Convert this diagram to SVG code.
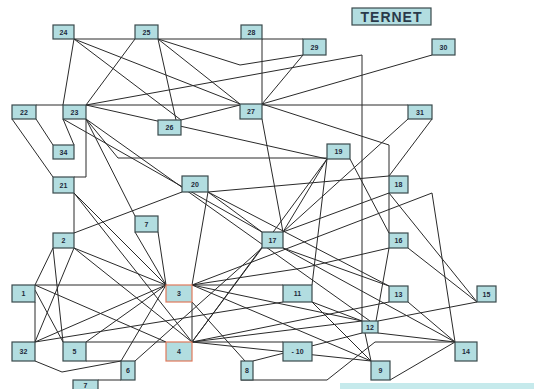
<svg xmlns="http://www.w3.org/2000/svg" width="534" height="389" viewBox="0 0 534 389">
<style>
.bg{fill:#ffffff}
.n rect{fill:#b2dde0;stroke:#3a4a4c;stroke-width:1.2}
.n.o rect{stroke:#e0795a}
.n text{font-family:"Liberation Sans",Arial,sans-serif;font-size:7px;font-weight:bold;fill:#1d2a3a;text-anchor:middle}
#edges line,#edges polyline{stroke:#2a2a2a;stroke-width:1;fill:none}
.title text{font-family:"Liberation Sans",Arial,sans-serif;font-size:14px;font-weight:bold;fill:#2a3a4a;text-anchor:middle;letter-spacing:1px}
</style>
<rect class="bg" x="0" y="0" width="534" height="389"/>
<g id="edges">
<line x1="74" y1="39" x2="135" y2="39"/>
<line x1="158" y1="39" x2="241" y2="39"/>
<line x1="262" y1="39" x2="303" y2="39"/>
<line x1="262" y1="39" x2="262" y2="104"/>
<line x1="36" y1="105" x2="63" y2="105"/>
<line x1="86" y1="105" x2="240" y2="105"/>
<line x1="262" y1="105" x2="408" y2="105"/>
<line x1="74" y1="39" x2="63" y2="105"/>
<line x1="74" y1="39" x2="240" y2="104"/>
<line x1="74" y1="39" x2="181" y2="120"/>
<line x1="135" y1="39" x2="86" y2="105"/>
<line x1="158" y1="39" x2="176" y2="120"/>
<line x1="158" y1="39" x2="240" y2="104"/>
<polyline points="158,39 240,65 303,55"/>
<line x1="303" y1="55" x2="262" y2="104"/>
<line x1="262" y1="104" x2="432" y2="55"/>
<polyline points="86,105 362,55 362,321"/>
<line x1="181" y1="120" x2="240" y2="105"/>
<line x1="86" y1="105" x2="327" y2="159"/>
<polyline points="86,119 118,158 327,158"/>
<line x1="36" y1="119" x2="53" y2="145"/>
<line x1="12" y1="119" x2="53" y2="177"/>
<line x1="63" y1="119" x2="74" y2="145"/>
<polyline points="86,119 86,177 74,177"/>
<line x1="74" y1="193" x2="74" y2="233"/>
<polyline points="262,104 389,145 389,176"/>
<line x1="389" y1="193" x2="389" y2="233"/>
<line x1="262" y1="119" x2="283" y2="232"/>
<line x1="408" y1="119" x2="283" y2="232"/>
<line x1="432" y1="119" x2="389" y2="176"/>
<line x1="208" y1="192" x2="389" y2="176"/>
<line x1="74" y1="233" x2="182" y2="192"/>
<line x1="208" y1="192" x2="262" y2="232"/>
<line x1="208" y1="192" x2="192" y2="285"/>
<line x1="208" y1="192" x2="389" y2="286"/>
<line x1="327" y1="159" x2="283" y2="232"/>
<line x1="327" y1="159" x2="312" y2="285"/>
<line x1="327" y1="159" x2="192" y2="342"/>
<line x1="350" y1="159" x2="389" y2="233"/>
<line x1="389" y1="193" x2="283" y2="232"/>
<line x1="389" y1="193" x2="477" y2="302"/>
<line x1="408" y1="248" x2="477" y2="302"/>
<line x1="389" y1="248" x2="376" y2="321"/>
<polyline points="192,285 432,193 455,342"/>
<polyline points="192,285 303,268 389,248"/>
<line x1="35" y1="285" x2="166" y2="285"/>
<line x1="35" y1="302" x2="35" y2="342"/>
<line x1="86" y1="342" x2="166" y2="342"/>
<line x1="192" y1="302" x2="192" y2="342"/>
<line x1="192" y1="285" x2="283" y2="285"/>
<line x1="192" y1="342" x2="283" y2="342"/>
<line x1="86" y1="361" x2="121" y2="361"/>
<polyline points="35,361 62,372 121,361"/>
<line x1="98" y1="380" x2="121" y2="380"/>
<line x1="121" y1="361" x2="166" y2="285"/>
<line x1="135" y1="361" x2="262" y2="248"/>
<polyline points="241,380 327,380 375,342 455,342"/>
<line x1="192" y1="302" x2="245" y2="361"/>
<line x1="253" y1="361" x2="362" y2="333"/>
<line x1="378" y1="333" x2="455" y2="342"/>
<line x1="378" y1="321" x2="477" y2="302"/>
<line x1="390" y1="380" x2="455" y2="342"/>
<line x1="408" y1="302" x2="455" y2="342"/>
<line x1="365" y1="333" x2="371" y2="361"/>
<line x1="53" y1="248" x2="35" y2="285"/>
<line x1="262" y1="248" x2="192" y2="342"/>
<line x1="283" y1="248" x2="455" y2="342"/>
<line x1="283" y1="248" x2="389" y2="286"/>
<line x1="74" y1="248" x2="166" y2="285"/>
<line x1="74" y1="193" x2="166" y2="285"/>
<line x1="74" y1="193" x2="192" y2="342"/>
<line x1="86" y1="119" x2="135" y2="216"/>
<line x1="135" y1="232" x2="166" y2="285"/>
<line x1="158" y1="232" x2="166" y2="285"/>
<line x1="35" y1="342" x2="166" y2="285"/>
<line x1="86" y1="342" x2="166" y2="285"/>
<line x1="35" y1="285" x2="166" y2="342"/>
<line x1="35" y1="290" x2="63" y2="342"/>
<line x1="74" y1="248" x2="35" y2="342"/>
<line x1="53" y1="248" x2="63" y2="342"/>
<line x1="74" y1="248" x2="192" y2="342"/>
<line x1="63" y1="119" x2="262" y2="232"/>
<line x1="86" y1="119" x2="370" y2="321"/>
<line x1="192" y1="285" x2="362" y2="321"/>
<line x1="192" y1="285" x2="371" y2="361"/>
<line x1="192" y1="342" x2="389" y2="302"/>
<line x1="192" y1="342" x2="362" y2="321"/>
<line x1="192" y1="342" x2="371" y2="361"/>
<line x1="312" y1="302" x2="362" y2="321"/>
<line x1="312" y1="302" x2="371" y2="361"/>
<line x1="35" y1="342" x2="283" y2="302"/>
</g>
<g id="n24" class="n"><rect x="53" y="25" width="21" height="14"/><text x="63.5" y="34.5">24</text></g>
<g id="n25" class="n"><rect x="135" y="25" width="23" height="14"/><text x="146.5" y="34.5">25</text></g>
<g id="n28" class="n"><rect x="241" y="25" width="21" height="14"/><text x="251.5" y="34.5">28</text></g>
<g id="n29" class="n"><rect x="303" y="39" width="23" height="16"/><text x="314.5" y="49.5">29</text></g>
<g id="n30" class="n"><rect x="432" y="39" width="23" height="16"/><text x="443.5" y="49.5">30</text></g>
<g id="ternet" class="title n"><rect x="352" y="8" width="79" height="17"/><text x="391.5" y="21.5" style="font-size:14px">TERNET</text></g>
<g id="n22" class="n"><rect x="12" y="105" width="24" height="14"/><text x="24" y="114.5">22</text></g>
<g id="n23" class="n"><rect x="63" y="105" width="23" height="14"/><text x="74.5" y="114.5">23</text></g>
<g id="n26" class="n"><rect x="158" y="120" width="23" height="15"/><text x="169.5" y="130">26</text></g>
<g id="n27" class="n"><rect x="240" y="104" width="22" height="15"/><text x="251" y="114">27</text></g>
<g id="n31" class="n"><rect x="408" y="105" width="24" height="14"/><text x="420" y="114.5">31</text></g>
<g id="n34" class="n"><rect x="53" y="145" width="21" height="14"/><text x="63.5" y="154.5">34</text></g>
<g id="n21" class="n"><rect x="53" y="177" width="21" height="16"/><text x="63.5" y="187.5">21</text></g>
<g id="n7a" class="n"><rect x="135" y="216" width="23" height="16"/><text x="146.5" y="226.5">7</text></g>
<g id="n2" class="n"><rect x="53" y="233" width="21" height="15"/><text x="63.5" y="243">2</text></g>
<g id="n19" class="n"><rect x="327" y="144" width="23" height="15"/><text x="338.5" y="154">19</text></g>
<g id="n20" class="n"><rect x="182" y="176" width="26" height="16"/><text x="195" y="186.5">20</text></g>
<g id="n17" class="n"><rect x="262" y="232" width="21" height="16"/><text x="272.5" y="242.5">17</text></g>
<g id="n18" class="n"><rect x="389" y="176" width="19" height="17"/><text x="398.5" y="187">18</text></g>
<g id="n16" class="n"><rect x="389" y="233" width="19" height="15"/><text x="398.5" y="243">16</text></g>
<g id="n1" class="n"><rect x="12" y="285" width="23" height="17"/><text x="23.5" y="296">1</text></g>
<g id="n3" class="n o"><rect x="166" y="285" width="26" height="17"/><text x="179" y="296">3</text></g>
<g id="n11" class="n"><rect x="283" y="285" width="29" height="17"/><text x="297.5" y="296">11</text></g>
<g id="n13" class="n"><rect x="389" y="286" width="19" height="16"/><text x="398.5" y="296.5">13</text></g>
<g id="n15" class="n"><rect x="477" y="286" width="19" height="16"/><text x="486.5" y="296.5">15</text></g>
<g id="n12" class="n"><rect x="362" y="321" width="16" height="12"/><text x="370" y="329.5">12</text></g>
<g id="n32" class="n"><rect x="12" y="342" width="23" height="19"/><text x="23.5" y="354">32</text></g>
<g id="n5" class="n"><rect x="63" y="342" width="23" height="19"/><text x="74.5" y="354">5</text></g>
<g id="n4" class="n o"><rect x="166" y="342" width="26" height="19"/><text x="179" y="354">4</text></g>
<g id="n10" class="n"><rect x="283" y="342" width="29" height="19"/><text x="297.5" y="354">- 10</text></g>
<g id="n14" class="n"><rect x="455" y="342" width="22" height="19"/><text x="466" y="354">14</text></g>
<g id="n6" class="n"><rect x="121" y="361" width="14" height="19"/><text x="128" y="373">6</text></g>
<g id="n8" class="n"><rect x="241" y="361" width="12" height="19"/><text x="247" y="373">8</text></g>
<g id="n9" class="n"><rect x="371" y="361" width="19" height="19"/><text x="380.5" y="373">9</text></g>
<g id="n7b" class="n"><rect x="73" y="380" width="25" height="14"/><text x="85.5" y="387.5">7</text></g>
<rect x="340" y="383" width="194" height="6" fill="#c6eaec"/>
</svg>
